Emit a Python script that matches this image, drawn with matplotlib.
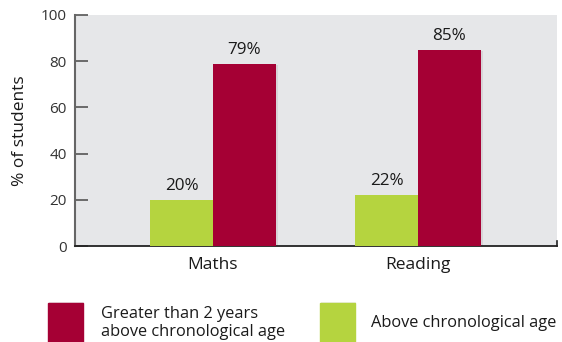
import matplotlib.pyplot as plt
import matplotlib.patheffects as pe
from matplotlib.patches import Rectangle
import numpy as np

plt.rcParams['font.family'] = ['Open Sans', 'DejaVu Sans']

# Share of students by subject
subjects = ['Maths', 'Reading']
above_age = [20, 22]
above_2_years = [79, 85]
series_names = ['Greater than 2 years\nabove chronological age', 'Above chronological age']

red = '#a50034'
green = '#b5d43f'
bg = '#e6e7e9'

fig = plt.figure(figsize=(5.62, 3.42), dpi=100)
ax = fig.add_axes([75 / 562, 96 / 342, 482 / 562, 231 / 342])
ax.set_facecolor(bg)

x = np.arange(len(subjects))
w = 0.307
shadow = [pe.SimplePatchShadow(offset=(1.5, -1), alpha=0.08), pe.Normal()]
b1 = ax.bar(x - w / 2, above_age, w, color=green, zorder=3)
b2 = ax.bar(x + w / 2, above_2_years, w, color=red, zorder=3)
for b in list(b1) + list(b2):
    b.set_path_effects(shadow)

# value labels above each bar
for bars, vals in ((b1, above_age), (b2, above_2_years)):
    for b, v in zip(bars, vals):
        ax.text(b.get_x() + b.get_width() / 2, v + 2.5, f'{v}%', ha='center', va='bottom',
                fontsize=12.3, color='#1a1a1a')

ax.set_xlim(-0.673, 1.678)
ax.set_ylim(0, 100)
ax.set_yticks(range(0, 101, 20))
ax.set_xticks(x)
ax.set_xticklabels(subjects, fontsize=12.5, color='#1a1a1a')
ax.tick_params(axis='x', length=0, pad=8)
ax.tick_params(axis='y', direction='in', length=9, width=1.2, color='#555555',
               labelsize=11, labelcolor='#333333', pad=6)
ax.set_ylabel('% of students', fontsize=12.5, color='#1a1a1a', labelpad=9)

for s in ('top', 'right'):
    ax.spines[s].set_visible(False)
ax.spines['left'].set_color('#666666')
ax.spines['left'].set_linewidth(1.5)
ax.spines['bottom'].set_color('#222222')
ax.spines['bottom'].set_linewidth(1.3)
ax.plot([1, 1], [0, 0.02], transform=ax.transAxes, color='#222222', lw=1.2, clip_on=False)

# legend drawn as figure patches
W, H = 562, 342
for (px, tx, label, col) in ((48, 101, series_names[0], red), (320, 371, series_names[1], green)):
    r = Rectangle((px / W, 0), 35 / W, 39 / H, transform=fig.transFigure, color=col,
                  path_effects=[pe.SimplePatchShadow(offset=(1, 1), alpha=0.08), pe.Normal()])
    fig.add_artist(r)
    fig.text(tx / W, (H - 323) / H, label, ha='left', va='center', fontsize=11.8,
             color='#1a1a1a', linespacing=1.2)

fig.savefig('out.png', dpi=100)
